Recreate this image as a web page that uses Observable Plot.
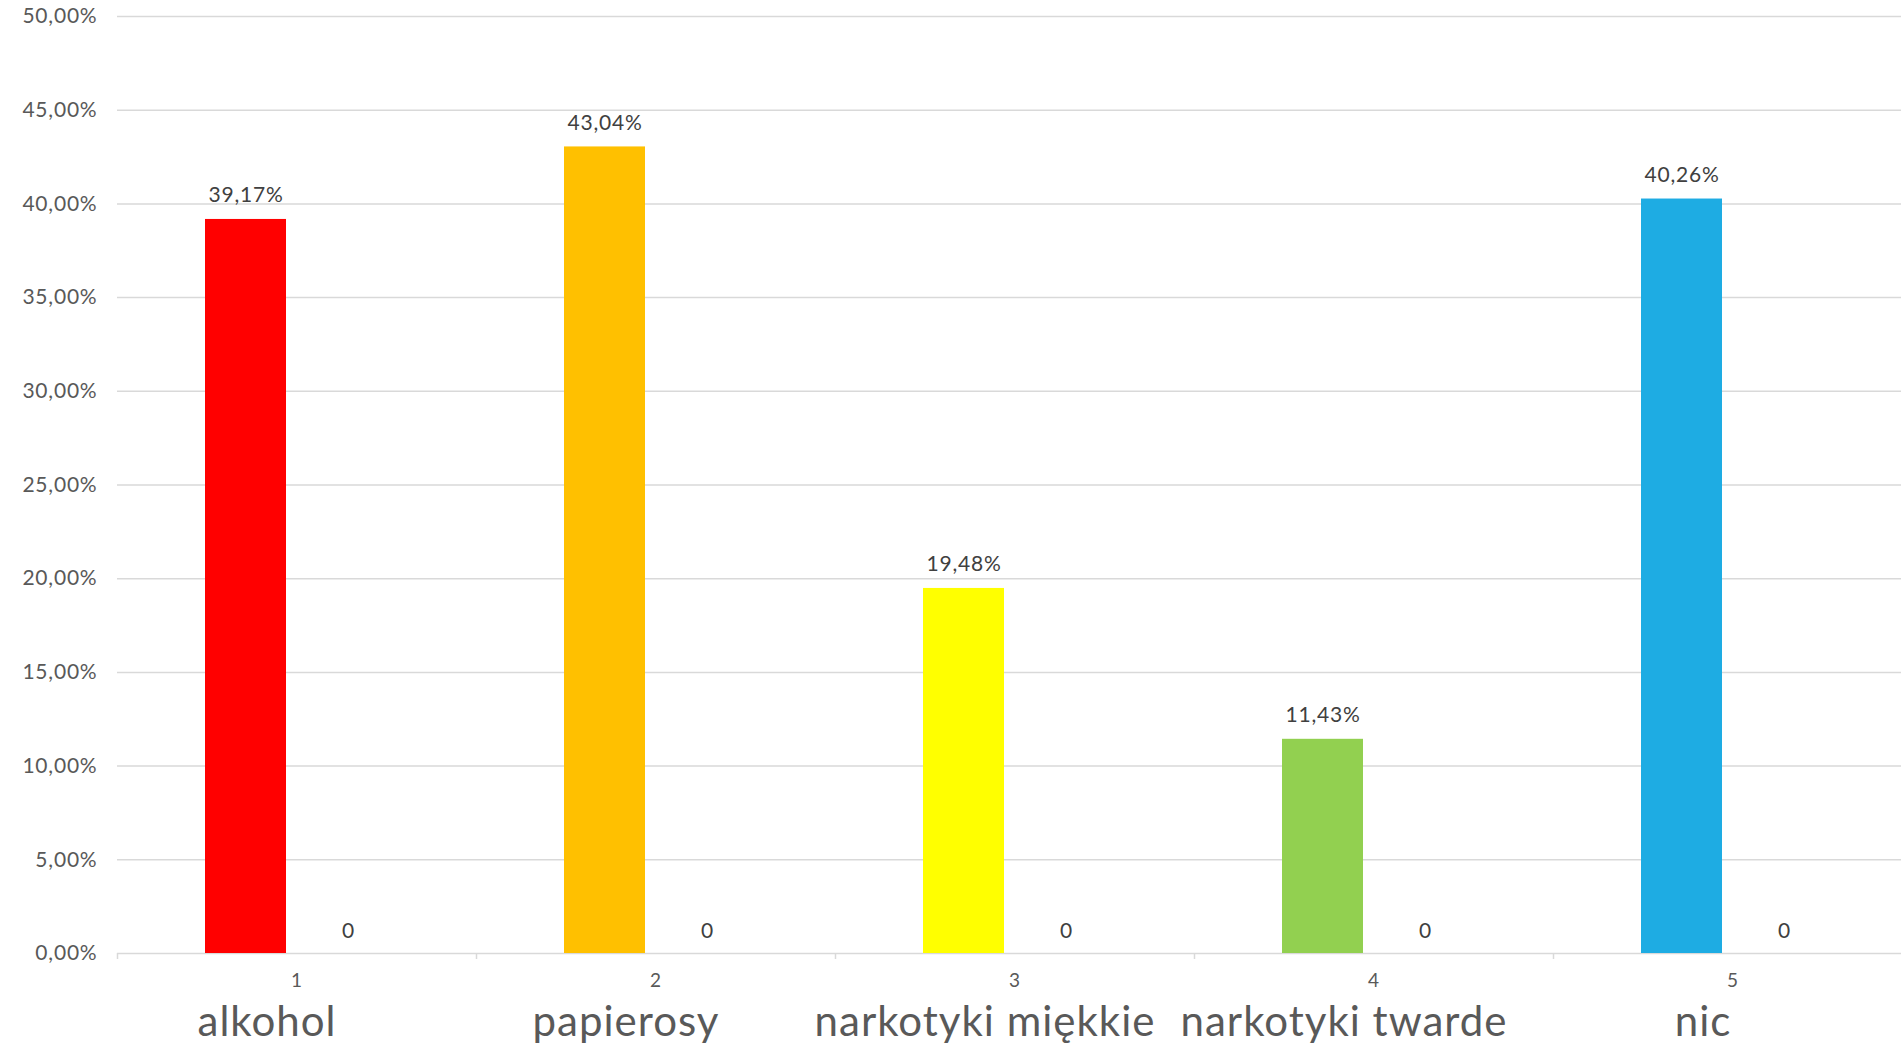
<!DOCTYPE html>
<html><head><meta charset="utf-8">
<script src="https://cdn.jsdelivr.net/npm/d3@7"></script>
<script src="https://cdn.jsdelivr.net/npm/@observablehq/plot@0.6"></script>
<style>
html,body{margin:0;padding:0;background:#fff;overflow:hidden;}
#chart{width:1901px;height:1045px;overflow:hidden;}
#chart svg{max-width:none !important;}
#chart text{letter-spacing:0.8px;}
#chart .big text{letter-spacing:1px;}
</style>
</head><body><div id="chart"></div>
<script>
const categories = ["1", "2", "3", "4", "5"];
const names = ["alkohol", "papierosy", "narkotyki miękkie", "narkotyki twarde", "nic"];
const values = [0.3917, 0.4304, 0.1948, 0.1143, 0.4026];
const secondValues = [0, 0, 0, 0, 0];
const colors = ["#FF0000", "#FFC000", "#FFFF00", "#92D050", "#1EACE3"];
const yTicks = [0, 0.05, 0.10, 0.15, 0.20, 0.25, 0.30, 0.35, 0.40, 0.45, 0.50];

const pl = d3.formatLocale({decimal: ",", thousands: "\u00a0", grouping: [3], currency: ["", "\u00a0zł"]});
const fmtPct = pl.format(".2%");

const data = categories.map((c, i) => ({cat: c, name: names[i], value: values[i], second: secondValues[i]}));

const font = "Lato, 'Open Sans', sans-serif";
const chart = Plot.plot({
  width: 1912,
  height: 1045,
  marginLeft: 117,
  marginRight: 0,
  marginTop: 16,
  marginBottom: 92,
  style: {fontFamily: font, background: "white", overflow: "visible", maxWidth: "none"},
  x: {domain: categories, padding: 0, axis: null},
  y: {domain: [0, 0.5], axis: null},
  color: {domain: categories, range: colors},
  marks: [
    Plot.ruleY(yTicks, {stroke: "#d9d9d9", strokeWidth: 1.5}),
    Plot.ruleX(categories, {x: d => d, y1: 0, y2: 0, dx: -179.5, insetBottom: -6, stroke: "#d9d9d9", strokeWidth: 1.5}),
    Plot.barY(data, {x: "cat", y: "value", fill: "cat", insetLeft: 88, insetRight: 190}),
    Plot.text(data, {x: "cat", y: "value", text: d => fmtPct(d.value), dx: -51, dy: -17, lineAnchor: "bottom", fill: "#404040", fontSize: 21}),
    Plot.text(data, {x: "cat", y: "second", text: d => String(d.second), dx: 51.5, dy: -16, lineAnchor: "bottom", fill: "#404040", fontSize: 21}),
    Plot.axisY(yTicks, {tickSize: 0, tickPadding: 20, tickFormat: fmtPct, fontSize: 21, color: "#595959", label: null}),
    Plot.axisX(categories, {tickSize: 0, tickPadding: 20, fontSize: 19, color: "#595959", label: null}),
    Plot.text(data, {x: "cat", frameAnchor: "bottom", text: "name", lineAnchor: "bottom", dy: 82, dx: -30, fontSize: 42, fill: "#595959", className: "big"})
  ]
});
document.getElementById("chart").appendChild(chart);
</script>
</body></html>
